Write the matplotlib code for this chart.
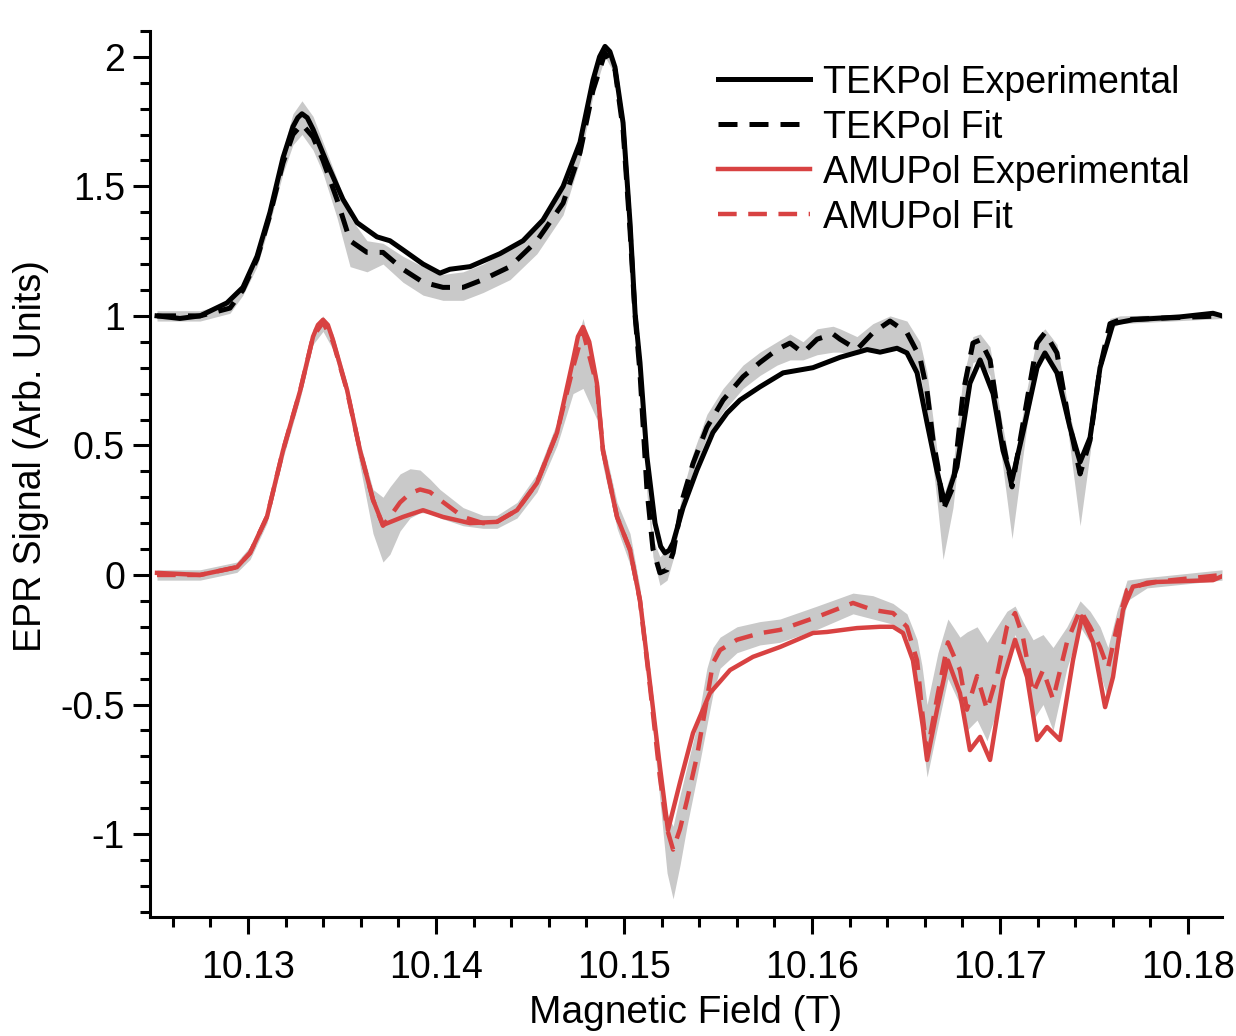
import matplotlib
matplotlib.use("Agg")
import matplotlib.pyplot as plt
from matplotlib.ticker import MultipleLocator, FuncFormatter

plt.rcParams['font.family'] = ['Liberation Sans', 'DejaVu Sans']

# ---------------- data ----------------
tek_exp_x = [10.12516, 10.12638, 10.12745, 10.12888, 10.12973, 10.13048, 10.13117, 10.13186, 10.13239, 10.13265, 10.13287,
             10.13315, 10.13346, 10.13420, 10.13505, 10.13580, 10.13686, 10.13755, 10.13824, 10.13931, 10.14021, 10.14074,
             10.14181, 10.14340, 10.14463, 10.14569, 10.14676, 10.14766, 10.14835, 10.14870, 10.14899, 10.14925, 10.14952, 10.14995,
             10.15032, 10.15059, 10.15085, 10.15122, 10.15165, 10.15195, 10.15218, 10.15240, 10.15261, 10.15314, 10.15388, 10.15473,
             10.15548, 10.15617, 10.15723, 10.15846, 10.16005, 10.16149, 10.16293, 10.16362, 10.16452, 10.16505,
             10.16559, 10.16612, 10.16665, 10.16707, 10.16771, 10.16840, 10.16894, 10.16963, 10.17016, 10.17064,
             10.17122, 10.17197, 10.17239, 10.17303, 10.17372, 10.17426, 10.17479, 10.17532, 10.17601, 10.17707,
             10.17957, 10.18133, 10.18181]
tek_exp_y = [1.00, 0.99, 1.00, 1.05, 1.11, 1.23, 1.40, 1.61, 1.73, 1.765, 1.78,
             1.765, 1.72, 1.59, 1.45, 1.36, 1.305, 1.29, 1.255, 1.20, 1.165, 1.18,
             1.19, 1.24, 1.29, 1.37, 1.50, 1.67, 1.91, 2.00, 2.04, 2.02, 1.96, 1.745,
             1.36, 1.01, 0.82, 0.456, 0.20, 0.11, 0.085, 0.095, 0.124, 0.26, 0.405, 0.55,
             0.625, 0.675, 0.726, 0.78, 0.80, 0.84, 0.87, 0.86, 0.875, 0.857,
             0.78, 0.587, 0.40, 0.277, 0.417, 0.74, 0.83, 0.70, 0.48, 0.367,
             0.55, 0.80, 0.857, 0.78, 0.57, 0.436, 0.53, 0.80, 0.97, 0.985,
             0.996, 1.01, 1.00]

tek_fit_x = [10.12516, 10.12745, 10.12904, 10.12973, 10.13048, 10.13117, 10.13186, 10.13239, 10.13287, 10.13346,
             10.13399, 10.13473, 10.13543, 10.13633, 10.13718, 10.13824, 10.13931, 10.14037, 10.14144, 10.14250,
             10.14394, 10.14537, 10.14676, 10.14766, 10.14835, 10.14899, 10.14952, 10.14995, 10.15032, 10.15059,
             10.15085, 10.15122, 10.15154, 10.15191, 10.15229, 10.15261, 10.15314, 10.15367, 10.15441, 10.15527,
             10.15633, 10.15723, 10.15814, 10.15883, 10.15952, 10.16027, 10.16112, 10.16149, 10.16239, 10.16324,
             10.16415, 10.16505, 10.16574, 10.16612, 10.16644, 10.16670, 10.16697, 10.16750, 10.16803, 10.16856,
             10.16894, 10.16947, 10.17000, 10.17064, 10.17144, 10.17197, 10.17239, 10.17303, 10.17362, 10.17426,
             10.17479, 10.17532, 10.17585, 10.17638, 10.18181]
tek_fit_y = [1.00, 1.00, 1.03, 1.10, 1.22, 1.39, 1.59, 1.70, 1.74, 1.69,
             1.60, 1.45, 1.29, 1.245, 1.245, 1.18, 1.13, 1.11, 1.11, 1.14,
             1.19, 1.29, 1.435, 1.63, 1.87, 2.015, 1.95, 1.72, 1.33, 1.00,
             0.78, 0.33, 0.10, 0.008, 0.02, 0.085, 0.30, 0.43, 0.57, 0.675,
             0.765, 0.82, 0.87, 0.895, 0.857, 0.91, 0.93, 0.91, 0.87, 0.935,
             0.98, 0.935, 0.84, 0.71, 0.52, 0.417, 0.25, 0.34, 0.70, 0.895,
             0.907, 0.83, 0.57, 0.34, 0.675, 0.895, 0.935, 0.857, 0.61, 0.39,
             0.52, 0.80, 0.97, 0.985, 1.00]
tek_band_lo = [0.98, 0.98, 1.01, 1.08, 1.19, 1.36, 1.55, 1.66, 1.70, 1.64,
               1.55, 1.38, 1.19, 1.17, 1.20, 1.13, 1.08, 1.06, 1.06, 1.09,
               1.14, 1.24, 1.39, 1.60, 1.85, 2.00, 1.93, 1.70, 1.31, 0.98,
               0.76, 0.31, 0.07, -0.04, -0.02, 0.06, 0.27, 0.40, 0.53, 0.63,
               0.72, 0.77, 0.81, 0.83, 0.83, 0.85, 0.86, 0.86, 0.85, 0.87,
               0.88, 0.86, 0.78, 0.62, 0.42, 0.25, 0.06, 0.26, 0.62, 0.82,
               0.83, 0.77, 0.50, 0.14, 0.58, 0.80, 0.85, 0.78, 0.55, 0.19,
               0.47, 0.77, 0.95, 0.97, 0.99]
tek_band_hi = [1.02, 1.02, 1.05, 1.12, 1.25, 1.42, 1.64, 1.78, 1.83, 1.77,
               1.67, 1.53, 1.38, 1.29, 1.28, 1.23, 1.19, 1.16, 1.17, 1.20,
               1.26, 1.35, 1.49, 1.67, 1.90, 2.04, 1.97, 1.75, 1.36, 1.02,
               0.80, 0.36, 0.14, 0.07, 0.10, 0.13, 0.33, 0.47, 0.62, 0.72,
               0.81, 0.86, 0.90, 0.93, 0.90, 0.95, 0.96, 0.95, 0.92, 0.97,
               1.00, 0.98, 0.90, 0.78, 0.60, 0.45, 0.30, 0.42, 0.76, 0.92,
               0.93, 0.88, 0.63, 0.38, 0.72, 0.92, 0.95, 0.89, 0.65, 0.45,
               0.56, 0.83, 0.99, 1.00, 1.01]

amu_exp_x = [10.12516, 10.12745, 10.12941, 10.13011, 10.13101, 10.13186, 10.13277, 10.13346, 10.13372, 10.13399, 10.13425, 10.13452,
             10.13527, 10.13596, 10.13665, 10.13718, 10.13824, 10.13931, 10.14037, 10.14181, 10.14324, 10.14431,
             10.14537, 10.14644, 10.14729, 10.14755, 10.14782, 10.14815, 10.14856, 10.14888, 10.14963, 10.15032, 10.15085, 10.15138,
             10.15191, 10.15234, 10.15298, 10.15367, 10.15457, 10.15564, 10.15686, 10.15830, 10.16005, 10.16080,
             10.16239, 10.16362, 10.16431, 10.16484, 10.16537, 10.16590, 10.16612, 10.16665, 10.16723, 10.16787,
             10.16840, 10.16894, 10.16947, 10.17016, 10.17080, 10.17144, 10.17197, 10.17250, 10.17319, 10.17388,
             10.17436, 10.17495, 10.17559, 10.17601, 10.17654, 10.17707, 10.17835, 10.18133, 10.18181]
amu_exp_y = [0.008, 0.0, 0.03, 0.085, 0.225, 0.48, 0.71, 0.92, 0.965, 0.985, 0.965, 0.907,
             0.714, 0.48, 0.29, 0.193, 0.224, 0.25, 0.224, 0.20, 0.205, 0.25,
             0.355, 0.55, 0.83, 0.92, 0.957, 0.90, 0.74, 0.48, 0.224, 0.097, -0.097, -0.417,
             -0.74, -0.985, -0.80, -0.61, -0.456, -0.367, -0.316, -0.278, -0.224, -0.22,
             -0.205, -0.20, -0.20, -0.224, -0.33, -0.587, -0.714, -0.52, -0.33, -0.456,
             -0.676, -0.625, -0.714, -0.405, -0.25, -0.394, -0.637, -0.587, -0.637, -0.33,
             -0.16, -0.26, -0.51, -0.394, -0.135, -0.045, -0.027, -0.02, -0.005]

amu_fit_x = [10.12516, 10.12745, 10.12941, 10.13011, 10.13101, 10.13186, 10.13277, 10.13346, 10.13399, 10.13452,
             10.13527, 10.13596, 10.13665, 10.13718, 10.13755, 10.13809, 10.13862, 10.13915, 10.13968, 10.14021,
             10.14144, 10.14250, 10.14324, 10.14431, 10.14537, 10.14644, 10.14729, 10.14782, 10.14856, 10.14888,
             10.14963, 10.15032, 10.15085, 10.15138, 10.15191, 10.15229, 10.15261, 10.15298, 10.15335, 10.15388,
             10.15441, 10.15473, 10.15511, 10.15601, 10.15723, 10.15830, 10.16027, 10.16218, 10.16324, 10.16431,
             10.16505, 10.16559, 10.16585, 10.16612, 10.16670, 10.16723, 10.16787, 10.16824, 10.16878, 10.16931,
             10.16984, 10.17037, 10.17080, 10.17122, 10.17176, 10.17229, 10.17282, 10.17356, 10.17426, 10.17479,
             10.17532, 10.17574, 10.17622, 10.17676, 10.17782, 10.18181]
amu_fit_y = [0.0, 0.0, 0.03, 0.085, 0.225, 0.48, 0.71, 0.92, 0.975, 0.90,
             0.71, 0.48, 0.29, 0.19, 0.225, 0.28, 0.315, 0.33, 0.32, 0.29,
             0.224, 0.20, 0.205, 0.25, 0.355, 0.55, 0.80, 0.94, 0.73, 0.48,
             0.224, 0.097, -0.10, -0.43, -0.78, -0.98, -1.06, -0.98, -0.87, -0.70,
             -0.48, -0.34, -0.29, -0.25, -0.225, -0.212, -0.162, -0.108, -0.135, -0.147,
             -0.20, -0.33, -0.52, -0.687, -0.456, -0.26, -0.367, -0.52, -0.39, -0.52,
             -0.39, -0.20, -0.147, -0.24, -0.456, -0.367, -0.48, -0.26, -0.135, -0.20,
             -0.278, -0.36, -0.20, -0.058, -0.03, 0.0]
amu_band_lo = [-0.02, -0.02, 0.01, 0.06, 0.20, 0.45, 0.68, 0.89, 0.94, 0.87,
               0.68, 0.42, 0.16, 0.05, 0.08, 0.17, 0.22, 0.24, 0.24, 0.22,
               0.19, 0.18, 0.18, 0.22, 0.32, 0.50, 0.70, 0.72, 0.60, 0.42,
               0.18, 0.04, -0.14, -0.48, -0.87, -1.15, -1.25, -1.12, -0.97, -0.78,
               -0.58, -0.46, -0.36, -0.30, -0.27, -0.26, -0.21, -0.15, -0.17, -0.19,
               -0.24, -0.40, -0.62, -0.78, -0.58, -0.40, -0.50, -0.60, -0.56, -0.64,
               -0.52, -0.32, -0.23, -0.33, -0.56, -0.50, -0.60, -0.36, -0.20, -0.26,
               -0.38, -0.48, -0.32, -0.10, -0.05, -0.02]
amu_band_hi = [0.02, 0.02, 0.05, 0.11, 0.25, 0.51, 0.74, 0.95, 1.00, 0.93,
               0.74, 0.51, 0.33, 0.30, 0.34, 0.39, 0.41, 0.405, 0.37, 0.33,
               0.26, 0.23, 0.23, 0.28, 0.39, 0.59, 0.85, 0.99, 0.77, 0.52,
               0.28, 0.16, -0.05, -0.38, -0.72, -0.92, -0.97, -0.85, -0.74, -0.58,
               -0.36, -0.28, -0.24, -0.20, -0.18, -0.17, -0.12, -0.07, -0.08, -0.11,
               -0.15, -0.25, -0.35, -0.50, -0.30, -0.17, -0.24, -0.22, -0.20, -0.26,
               -0.20, -0.14, -0.12, -0.18, -0.25, -0.23, -0.28, -0.20, -0.10, -0.14,
               -0.20, -0.28, -0.14, -0.02, -0.01, 0.02]

labels = ["TEKPol Experimental", "TEKPol Fit", "AMUPol Experimental", "AMUPol Fit"]
x_ticks = [10.13, 10.14, 10.15, 10.16, 10.17, 10.18]
y_ticks = [-1, -0.5, 0, 0.5, 1, 1.5, 2]

# ---------------- plot ----------------
RED = '#d84242'
GRAY = '#c9c9c9'

fig = plt.figure(figsize=(12.36, 10.36), dpi=100)
ax = fig.add_axes([0.1214, 0.1149, 0.8673, 0.8553])

ax.fill_between(tek_fit_x, tek_band_lo, tek_band_hi, color=GRAY, lw=0, zorder=1)
ax.fill_between(amu_fit_x, amu_band_lo, amu_band_hi, color=GRAY, lw=0, zorder=1)

l1, = ax.plot(tek_exp_x, tek_exp_y, color='black', lw=3.6, zorder=3, solid_joinstyle='round')
l2, = ax.plot(tek_fit_x, tek_fit_y, color='black', lw=3.6, ls=(0, (3.8, 2.4)), zorder=4)
l3, = ax.plot(amu_exp_x, amu_exp_y, color=RED, lw=3.2, zorder=3, solid_joinstyle='round')
l4, = ax.plot(amu_fit_x, amu_fit_y, color=RED, lw=3.2, ls=(0, (4.2, 2.6)), zorder=4)

ax.set_xlim(10.12479, 10.18181)
ax.set_ylim(-1.32, 2.1)

ax.spines['top'].set_visible(False)
ax.spines['right'].set_visible(False)
for s in ['left', 'bottom']:
    ax.spines[s].set_linewidth(2.2)

ax.set_xticks(x_ticks)
ax.set_yticks(y_ticks)
ax.xaxis.set_minor_locator(MultipleLocator(0.002))
ax.yaxis.set_minor_locator(MultipleLocator(0.1))
ax.xaxis.set_major_formatter(FuncFormatter(lambda v, p: f"{v:.2f}"))
ax.yaxis.set_major_formatter(FuncFormatter(lambda v, p: f"{v:g}"))
ax.tick_params(which='major', length=12, width=2.2, labelsize=27, direction='out')
ax.tick_params(axis='x', which='major', pad=12)
ax.tick_params(axis='y', which='major', pad=6)
ax.tick_params(which='minor', length=7, width=2.2, direction='out')

ax.set_xlabel("Magnetic Field (T)", fontsize=28, labelpad=6)
ax.set_ylabel("EPR Signal (Arb. Units)", fontsize=27)
ax.yaxis.set_label_coords(-0.094, 0.52)

ax.legend([l1, l2, l3, l4], labels, loc='upper left', bbox_to_anchor=(0.53, 0.962),
          frameon=False, fontsize=27, handlelength=2.45, handletextpad=0.35,
          labelspacing=0.24, borderpad=0, borderaxespad=0)

fig.savefig("out.png", dpi=100)
